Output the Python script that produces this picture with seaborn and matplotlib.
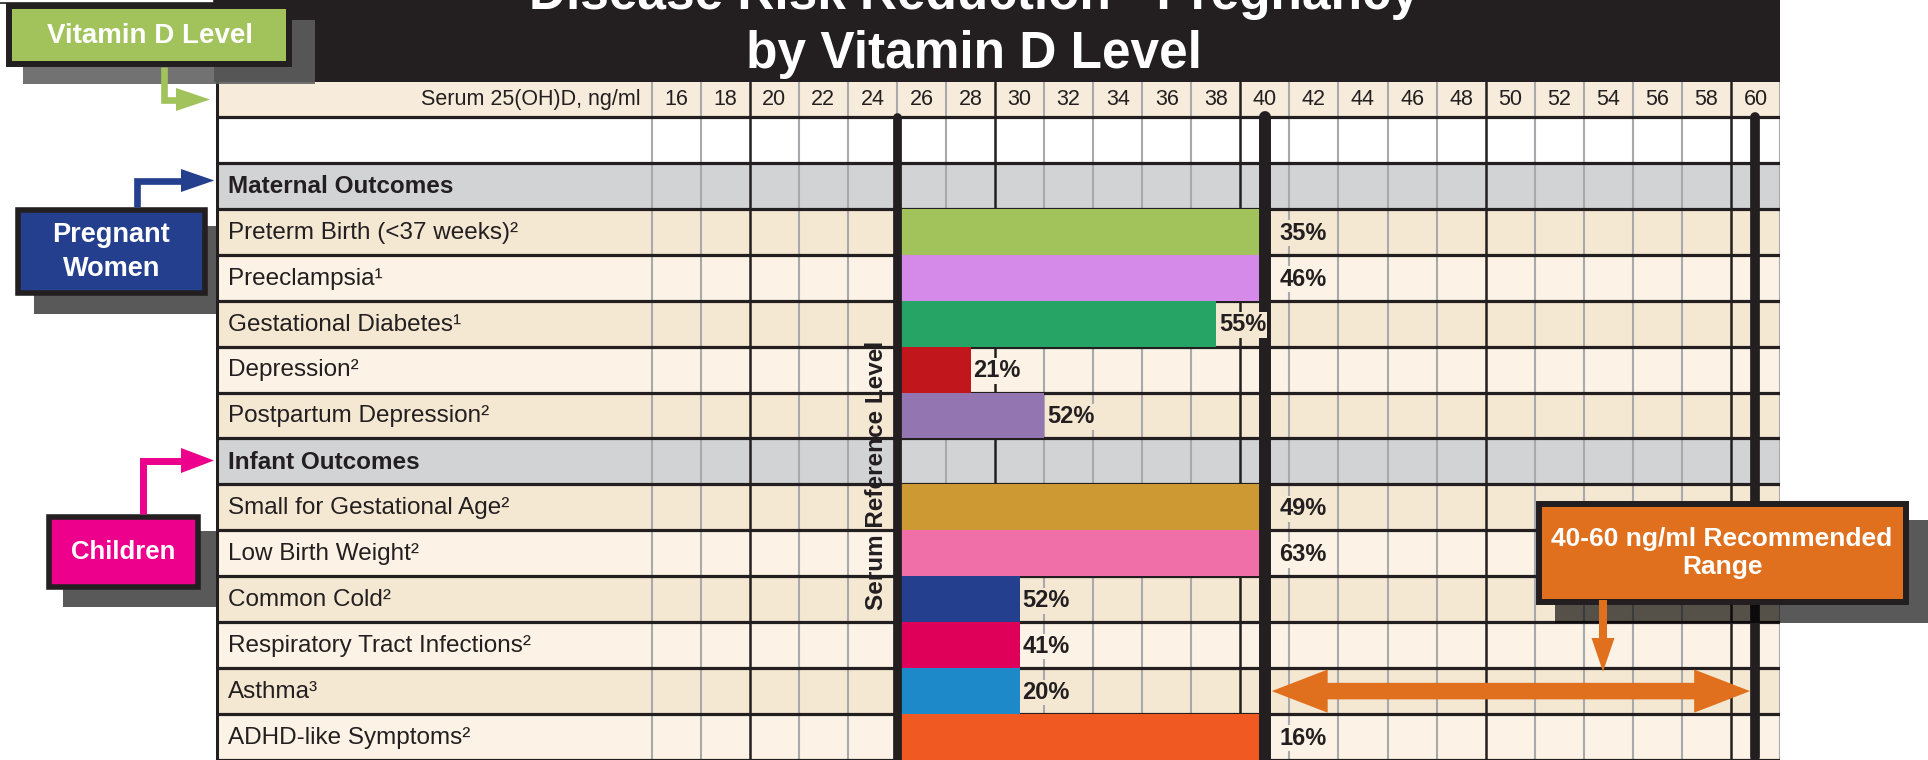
import numpy as np
import pandas as pd
import matplotlib
matplotlib.use("Agg")
import matplotlib.pyplot as plt
import seaborn as sns
from matplotlib.patches import Rectangle, Polygon

sns.set_theme(style="white")
NARROW = ['Liberation Sans Narrow', 'Liberation Sans', 'DejaVu Sans']
WIDE = ['Liberation Sans', 'DejaVu Sans']
plt.rcParams['font.family'] = NARROW

# dane
rows = ["Maternal Outcomes", "Preterm Birth (<37 weeks)", "Preeclampsia", "Gestational Diabetes",
        "Depression", "Postpartum Depression", "Infant Outcomes", "Small for Gestational Age",
        "Low Birth Weight", "Common Cold", "Respiratory Tract Infections", "Asthma",
        "ADHD-like Symptoms"]
footnotes = ["", "²", "¹", "¹", "²", "²", "", "²", "²", "²", "²", "³", "²"]
sections = ["Maternal Outcomes", "Infant Outcomes"]
outcomes = [r for r in rows if r not in sections]
serum_level = [40, 40, 38, 28, 31, 40, 40, 30, 30, 30, 40]
risk_reduction = ["35%", "46%", "55%", "21%", "52%", "49%", "63%", "52%", "41%", "20%", "16%"]
bar_colors = ["#a2c35c", "#d589e8", "#25a465", "#c1161b", "#9376b1", "#cc9933",
              "#f06fa8", "#243f8e", "#de0059", "#1e89c8", "#f05a22"]
serum_ticks = list(range(16, 62, 2))
reference_level = 25
recommended = [40, 60]

INK = "#231f20"
GRAY_LINE = "#a7a9ac"
DARK_BEIGE = "#f5e8d3"
LIGHT_BEIGE = "#fcf3e6"
SECTION_GRAY = "#d1d3d4"
HEADER_BG = "#f7ecdb"

fig = plt.figure(figsize=(19.28, 7.6), dpi=100)
W, H = 1928, 760

# --- tabela ---
x_left, x_right = -2.76, 61
y_top, y_bottom = -2.26, 12.5
ax = fig.add_axes([216 / W, 0, (1780 - 216) / W, (H - 82) / H])

df = pd.DataFrame({"outcome": outcomes,
                   "length": np.array(serum_level) - reference_level})
sns.barplot(data=df, y="outcome", x="length", order=rows, hue="outcome",
            palette=dict(zip(outcomes, bar_colors)), saturation=1, width=1.0,
            errorbar=None, legend=False, left=reference_level, linewidth=0,
            zorder=3, ax=ax)

ax.set_xlim(x_left, x_right)
ax.set_ylim(y_bottom, y_top)
ax.set_xticks([])
ax.set_yticks([])
ax.set_xlabel("")
ax.set_ylabel("")
for s in ax.spines.values():
    s.set_visible(False)

# tla wierszy
ax.axhspan(y_top, -1.5, color=HEADER_BG, zorder=0)
ax.axhspan(-1.5, -0.5, color="white", zorder=0)
row_colors = []
k = 0
for i, r in enumerate(rows):
    if r in sections:
        c = SECTION_GRAY
        k = 0
    else:
        c = DARK_BEIGE if k % 2 == 0 else LIGHT_BEIGE
        k += 1
    row_colors.append(c)
    ax.axhspan(i - 0.5, i + 0.5, color=c, zorder=0)

# linie pionowe
for b in range(15, 62, 2):
    dark = b in (19, 29, 39, 49, 59)
    ax.axvline(b, color=INK if dark else GRAY_LINE, lw=1.8 if dark else 1.5, zorder=1)
ax.axvline(x_left + 0.05, color=INK, lw=2.2, zorder=1)

# linie poziome
for yb in np.arange(-1.5, len(rows), 1.0):
    ax.axhline(yb, color=INK, lw=2.3, zorder=2)

# grube linie referencyjne
ref_top = 1 - ((-1.5) - y_top) / (y_bottom - y_top)
ax.axvline(reference_level, ymin=0, ymax=ref_top, color=INK, lw=6.3, zorder=4)
ax.axvline(recommended[0], ymin=0, ymax=ref_top, color=INK, lw=8.6, zorder=4)
ax.axvline(recommended[1], ymin=0.005, ymax=ref_top, color=INK, lw=7.0, zorder=4)

# naglowek
ax.text(14.55, -1.88, "Serum 25(OH)D, ng/ml", ha="right", va="center",
        fontsize=15.5, color=INK, zorder=5)
for t in serum_ticks:
    ax.text(t, -1.88, str(t), ha="center", va="center", fontsize=15.5, color=INK, zorder=5)

# etykiety wierszy
for i, (r, f) in enumerate(zip(rows, footnotes)):
    ax.text(-2.27, i + 0.02, r + f, ha="left", va="center", fontsize=17.5, color=INK,
            fontweight="bold" if r in sections else "normal", zorder=5)

# procenty
thick = [reference_level] + recommended
for name, lvl, lab in zip(outcomes, serum_level, risk_reduction):
    i = rows.index(name)
    x = lvl + (0.6 if lvl in thick else 0.12)
    ax.text(x, i + 0.03, lab, ha="left", va="center", fontsize=17, fontweight="bold",
            color=INK, zorder=5,
            bbox=dict(facecolor=row_colors[i], edgecolor="none", pad=1))

ax.text(reference_level - 0.85, 6.3, "Serum Reference Level", rotation=90, ha="center",
        va="center", fontsize=17.5, fontweight="bold", color=INK, family=WIDE, zorder=5)

# podwojna strzalka 40-60
x0, x1, yc = recommended[0] + 0.28, recommended[1] - 0.22, rows.index("Asthma")
hl, hh, sh = 2.28, 0.47, 0.18
arrow = [(x0, yc), (x0 + hl, yc - hh), (x0 + hl, yc - sh), (x1 - hl, yc - sh),
         (x1 - hl, yc - hh), (x1, yc), (x1 - hl, yc + hh), (x1 - hl, yc + sh),
         (x0 + hl, yc + sh), (x0 + hl, yc + hh)]
ax.add_patch(Polygon(arrow, closed=True, color="#e0701e", lw=0, zorder=4.5))

# --- ozdobniki ---
ov = fig.add_axes([0, 0, 1, 1])
ov.set_zorder(10)
ov.patch.set_visible(False)
ov.axis("off")
ov.set_xlim(0, W)
ov.set_ylim(H, 0)


def box(x0, y0, x1, y1, **kw):
    ov.add_patch(Rectangle((x0, y0), x1 - x0, y1 - y0, **kw))


# tytul
box(-5, -10, 214, 3, facecolor="white", edgecolor=INK, lw=1.2)
box(214, -5, 1780, 82, facecolor=INK, edgecolor="none")
ov.text(974, 9, "Disease Risk Reduction - Pregnancy", ha="center", va="baseline",
        fontsize=37, fontweight="bold", color="white")
ov.text(974, 68, "by Vitamin D Level", ha="center", va="baseline",
        fontsize=37, fontweight="bold", color="white")

GREEN, BLUE, MAGENTA, ORANGE = "#a2c35c", "#253f8f", "#ec008c", "#e0701e"

# Vitamin D Level
ov.plot([164, 164, 178], [67, 99.5, 99.5], color=GREEN, lw=4.8,
        solid_joinstyle="miter", solid_capstyle="butt")
ov.add_patch(Polygon([(176, 88), (210, 99.5), (176, 111)], color=GREEN, lw=0))
box(23, 20, 315, 84, facecolor="#5e5e5e", edgecolor="none", alpha=0.88)
box(9, 6, 289, 64, facecolor=GREEN, edgecolor=INK, lw=4.3)
ov.text(150, 36, "Vitamin D Level", ha="center", va="center", fontsize=20,
        fontweight="bold", color="white")

# Pregnant Women
ov.plot([137.3, 137.3, 183], [207, 180.5, 180.5], color=BLUE, lw=4.8,
        solid_joinstyle="miter", solid_capstyle="butt")
ov.add_patch(Polygon([(181, 169), (214.3, 180.5), (181, 192)], color=BLUE, lw=0))
box(33.5, 226, 215.6, 314, facecolor="black", edgecolor="none", alpha=0.65)
box(17.6, 209.5, 205.3, 293, facecolor=BLUE, edgecolor=INK, lw=4.0)
ov.text(111.5, 252, "Pregnant\nWomen", ha="center", va="center", fontsize=19.5,
        fontweight="bold", color="white", linespacing=1.4)

# Children
ov.plot([142.5, 142.5, 183], [514, 460.5, 460.5], color=MAGENTA, lw=5.0,
        solid_joinstyle="miter", solid_capstyle="butt")
ov.add_patch(Polygon([(181, 448), (214, 460.5), (181, 473)], color=MAGENTA, lw=0))
box(62.5, 530.7, 215.6, 607, facecolor="black", edgecolor="none", alpha=0.65)
box(49, 516.5, 198, 587, facecolor=MAGENTA, edgecolor=INK, lw=4.0)
ov.text(123.5, 552, "Children", ha="center", va="center", fontsize=18.5,
        fontweight="bold", color="white")

# zakres rekomendowany
box(1555, 520, 1935, 623.3, facecolor="black", edgecolor="none", alpha=0.65)
ov.plot([1603, 1603], [600, 640], color=ORANGE, lw=5.8, solid_capstyle="butt")
ov.add_patch(Polygon([(1591.5, 638), (1603, 671.7), (1614.5, 638)], color=ORANGE, lw=0))
box(1538.6, 504.2, 1906, 601.5, facecolor=ORANGE, edgecolor=INK, lw=4.3)
ov.text(1722, 553, "40-60 ng/ml Recommended\nRange", ha="center", va="center",
        fontsize=19, fontweight="bold", color="white", linespacing=1.25)

fig.savefig("out.png", dpi=100)
